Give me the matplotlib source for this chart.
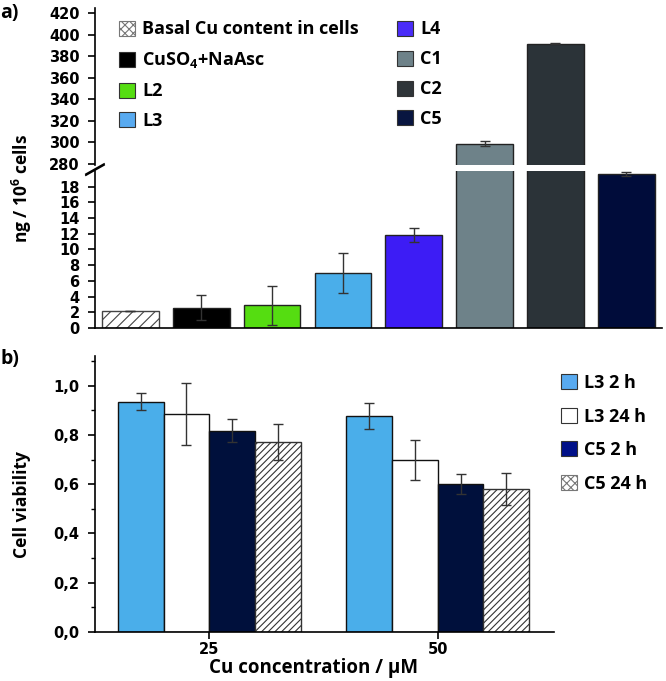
import matplotlib
matplotlib.use('Agg')
import matplotlib.pyplot as plt
from matplotlib.patches import Patch
from matplotlib.ticker import MultipleLocator

# panel a: Cu content per 10^6 cells
samples = ['Basal Cu content in cells', 'CuSO$_4$+NaAsc', 'L2', 'L3', 'L4', 'C1', 'C2', 'C5']
cu_content = [2.2, 2.6, 2.9, 7.0, 11.9, 299, 392, 19.6]
cu_err = [0, 1.6, 2.5, 2.6, 0.9, 2.1, 0.4, 0.3]
colors_a = ['white', 'black', '#55dd11', '#4aaeea', '#3d1cf5', '#6e8289', '#2b3338', '#000c3a']
legend_a = ['white', 'black', '#55dd11', '#58aaf0', '#4a2cf8', '#6e8289', '#2f3539', '#081540']

# panel b: viability
conc = [25, 50]
series_b = ['L3 2 h', 'L3 24 h', 'C5 2 h', 'C5 24 h']
l3_2h = [0.935, 0.878]
l3_2h_err = [0.035, 0.053]
l3_24h = [0.885, 0.699]
l3_24h_err = [0.127, 0.080]
c5_2h = [0.818, 0.600]
c5_2h_err = [0.045, 0.040]
c5_24h = [0.772, 0.580]
c5_24h_err = [0.074, 0.066]
colors_b = ['#4aaeea', 'white', '#00103c', 'white']
legend_b = ['#58aaf0', 'white', '#001088', 'white']

plt.rcParams['font.family'] = ['Open Sans', 'DejaVu Sans']
plt.rcParams['font.weight'] = 'bold'
plt.rcParams['axes.labelweight'] = 'bold'
plt.rcParams['mathtext.fontset'] = 'custom'
plt.rcParams['mathtext.rm'] = 'Open Sans:bold'
plt.rcParams['mathtext.it'] = 'Open Sans:bold'
plt.rcParams['mathtext.bf'] = 'Open Sans:bold'
plt.rcParams['hatch.linewidth'] = 0.8
plt.rcParams['axes.linewidth'] = 1.2

fig = plt.figure(figsize=(6.66, 6.81), dpi=100)
ax_top = fig.add_axes([0.1426, 0.7577, 0.851, 0.2305])
ax_bot = fig.add_axes([0.1426, 0.5184, 0.851, 0.2305])

tickfont = dict(family='DejaVu Sans', weight='bold', size=10.5)

x = list(range(len(samples)))
for ax in (ax_top, ax_bot):
    bars = ax.bar(x, cu_content, width=0.8, color=colors_a, edgecolor='#222222',
                  linewidth=1.0, yerr=cu_err,
                  error_kw=dict(ecolor='#333333', elinewidth=1.0, capsize=3.5, capthick=1.0))
    bars[0].set_hatch('///')
    bars[0].set_edgecolor('#444444')
    ax.set_xlim(-0.5, 7.5)
    ax.spines['right'].set_visible(False)
    ax.spines['top'].set_visible(False)
    ax.set_xticks([])
    ax.tick_params(axis='y', direction='out', length=5, width=1.2, pad=6)

ax_top.set_ylim(279, 425)
ax_top.spines['bottom'].set_visible(False)
ax_top.set_yticks(range(280, 421, 20))
ax_top.set_yticklabels([str(v) for v in range(280, 421, 20)], **tickfont)
ax_bot.set_ylim(0, 20)
ax_bot.set_yticks(range(0, 19, 2))
ax_bot.set_yticklabels([str(v) for v in range(0, 19, 2)], **tickfont)

# break marks
ax_top.plot([-0.016, 0.016], [-0.065, 0.0], transform=ax_top.transAxes, color='black',
            lw=1.2, clip_on=False)
ax_bot.plot([-0.016, 0.016], [0.98, 1.045], transform=ax_bot.transAxes, color='black',
            lw=1.2, clip_on=False)

handles_a = []
for i, lab in enumerate(samples):
    if i == 0:
        handles_a.append(Patch(facecolor='white', edgecolor='#777777', hatch='xxxx',
                               linewidth=0.8, label=lab))
    else:
        handles_a.append(Patch(facecolor=legend_a[i], edgecolor='#333333', linewidth=0.8,
                               label=lab))
fig.legend(handles=handles_a, ncol=2, loc='upper left', bbox_to_anchor=(0.178, 0.970),
           frameon=False, fontsize=13, handlelength=0.9, handleheight=0.9,
           handletextpad=0.4, labelspacing=0.66, columnspacing=2.1, borderpad=0,
           borderaxespad=0)

fig.text(0.033, 1 - 188 / 681, 'ng / 10$^6$ cells', rotation=90, ha='center', va='center',
         fontsize=12.5)
fig.text(0.0, 1 - 13 / 681, 'a)', ha='left', va='center', fontsize=14)

# panel b
ax_b = fig.add_axes([0.1426, 0.072, 0.689, 0.405])
offsets = [-7.5, -2.5, 2.5, 7.5]
values = [l3_2h, l3_24h, c5_2h, c5_24h]
errors = [l3_2h_err, l3_24h_err, c5_2h_err, c5_24h_err]
for k in range(4):
    xs = [c + offsets[k] for c in conc]
    bb = ax_b.bar(xs, values[k], width=5, color=colors_b[k], edgecolor='#111111',
                  linewidth=1.0, yerr=errors[k],
                  error_kw=dict(ecolor='#333333', elinewidth=1.0, capsize=3.5, capthick=1.0))
    if k == 3:
        for b in bb:
            b.set_hatch('/////')
            b.set_edgecolor('#333333')

ax_b.set_xlim(12.5, 62.7)
ax_b.set_ylim(0, 1.12)
ax_b.spines['right'].set_visible(False)
ax_b.spines['top'].set_visible(False)
ax_b.set_xticks(conc)
ax_b.set_xticklabels([str(c) for c in conc], **tickfont)
yt = [0.0, 0.2, 0.4, 0.6, 0.8, 1.0]
ax_b.set_yticks(yt)
ax_b.set_yticklabels([('%.1f' % v).replace('.', ',') for v in yt], **tickfont)
ax_b.yaxis.set_minor_locator(MultipleLocator(0.1))
ax_b.tick_params(axis='both', which='major', direction='out', length=5, width=1.2, pad=6)
ax_b.tick_params(axis='x', which='major', pad=2)
ax_b.tick_params(axis='y', which='minor', direction='out', length=3, width=1.0)
fig.text(0.033, 1 - 505 / 681, 'Cell viability', rotation=90, ha='center', va='center',
         fontsize=12.5)
ax_b.set_xlabel('Cu concentration / \u00b5M', fontsize=13.5)
ax_b.xaxis.set_label_coords(0.477, -0.095)

handles_b = []
for k, lab in enumerate(series_b):
    if k == 3:
        handles_b.append(Patch(facecolor='white', edgecolor='#777777', hatch='xxxx',
                               linewidth=0.8, label=lab))
    else:
        handles_b.append(Patch(facecolor=legend_b[k], edgecolor='#333333', linewidth=0.8,
                               label=lab))
fig.legend(handles=handles_b, loc='upper left', bbox_to_anchor=(0.842, 1 - 374 / 681),
           frameon=False, fontsize=13, handlelength=0.9, handleheight=0.9,
           handletextpad=0.4, labelspacing=0.86, borderpad=0, borderaxespad=0)

fig.text(0.0, 1 - 359 / 681, 'b)', ha='left', va='center', fontsize=14)

fig.savefig('out.png', dpi=100)
